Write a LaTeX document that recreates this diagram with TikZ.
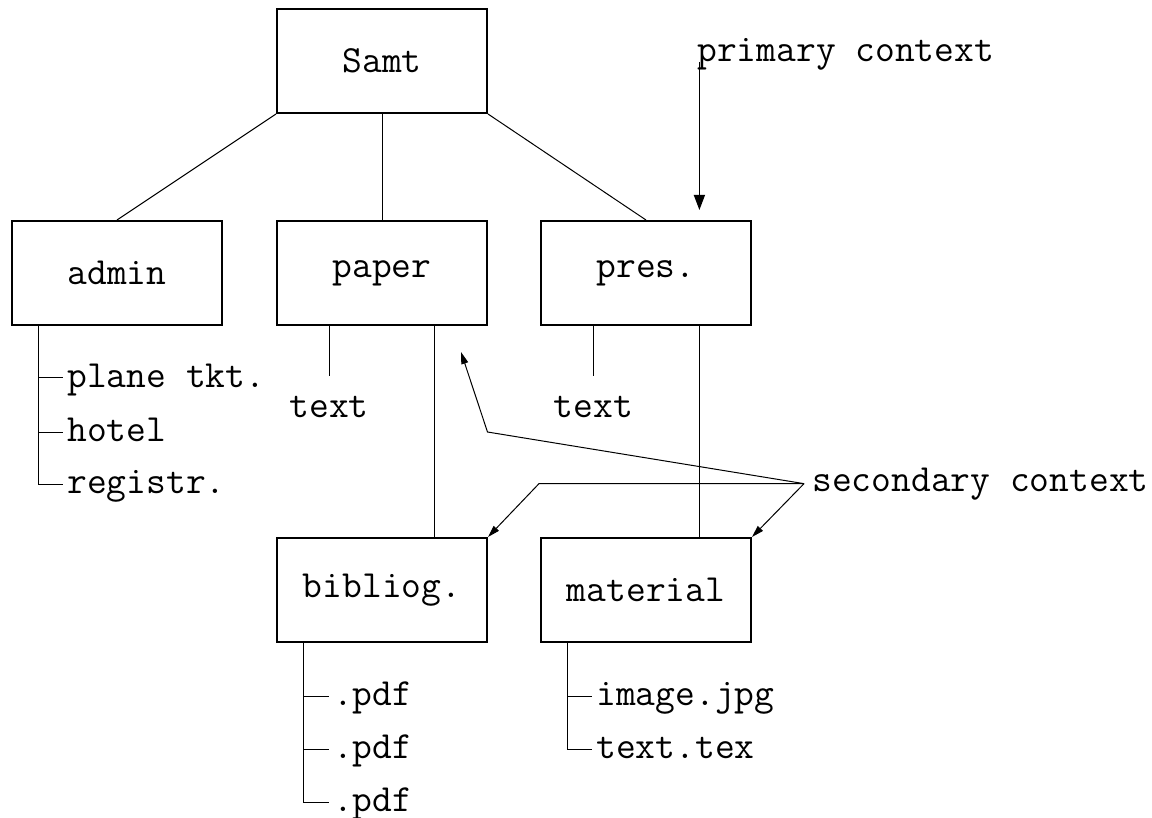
\documentclass[tikz,border=0pt]{standalone}
\usetikzlibrary{arrows.meta}
\tikzset{
  box/.style={draw, line width=1pt, minimum width=105pt, minimum height=52pt, inner sep=0pt},
  conn/.style={line width=0.5pt},
  leaf/.style={anchor=west, inner xsep=2pt, inner ysep=0pt, text height=13.5pt, text depth=3.85pt},
  note/.style={anchor=base west, inner sep=0pt},
  textnote/.style={anchor=base, inner xsep=0pt, inner ysep=9.5pt},
  parrow/.style={line width=0.7pt, -{Triangle[length=7.5pt,width=5.5pt]}},
  sarrow/.style={line width=0.5pt, -{Triangle[length=6pt,width=3.5pt]}},
}
\begin{document}
\begin{tikzpicture}[x=0.5pt, y=-0.5pt, font=\fontsize{19.2}{23}\selectfont\ttfamily]
\useasboundingbox (0,0) rectangle (1152,818);
% boxes
\node[box] (samt) at (382,61) {Samt};
\node[box] (admin) at (117,273) {admin};
\node[box] (paper) at (382,273) {paper};
\node[box] (pres) at (646,273) {pres.};
\node[box] (bibliog) at (382,590) {bibliog.};
\node[box] (material) at (646,590) {material};
% tree from Samt
\draw[conn] (samt.south west) -- (admin.north);
\draw[conn] (samt.south) -- (paper.north);
\draw[conn] (samt.south east) -- (pres.north);
% admin leaves
\coordinate (av) at (38,0);
\node[leaf] (l1) at (63,378) {plane tkt.};
\node[leaf] (l2) at (63,432) {hotel};
\node[leaf] (l3) at (63,484) {registr.};
\draw[conn] (admin.south -| av) |- (l3.west);
\draw[conn] (l1.west -| av) -- (l1.west);
\draw[conn] (l2.west -| av) -- (l2.west);
% paper
\node[textnote] (ptext) at (329,417) {text};
\draw[conn] (paper.south -| ptext.north) -- (ptext.north);
\coordinate (pb) at (434.5,0);
\draw[conn] (paper.south -| pb) -- (bibliog.north -| pb);
% pres
\node[textnote] (rtext) at (593.5,417) {text};
\draw[conn] (pres.south -| rtext.north) -- (rtext.north);
\coordinate (pm) at (699,0);
\draw[conn] (pres.south -| pm) -- (material.north -| pm);
% bibliog leaves
\coordinate (bv) at (303,0);
\node[leaf] (b1) at (328.6,696) {.pdf};
\node[leaf] (b2) at (328.6,749) {.pdf};
\node[leaf] (b3) at (328.6,802) {.pdf};
\draw[conn] (bibliog.south -| bv) |- (b3.west);
\draw[conn] (b1.west -| bv) -- (b1.west);
\draw[conn] (b2.west -| bv) -- (b2.west);
% material leaves
\coordinate (mv) at (567,0);
\node[leaf] (m1) at (592,696) {image.jpg};
\node[leaf] (m2) at (592,749) {text.tex};
\draw[conn] (material.south -| mv) |- (m2.west);
\draw[conn] (m1.west -| mv) -- (m1.west);
% primary context
\node[note] (prim) at (697,62) {primary context};
\coordinate (pv) at (699.4,0);
\draw[parrow, shorten >=5pt] (prim.base west -| pv) -- (pres.north -| pv);
% secondary context
\node[anchor=base west, inner xsep=4pt, inner ysep=0pt] (sec) at (804,491) {secondary context};
\coordinate (s1bend) at (487.5,432);
\coordinate (s1tip) at (461,352);
\coordinate (s2bend) at (539,0);
\draw[sarrow] (sec.west) -- (s1bend) -- (s1tip);
\draw[sarrow] (sec.west) -- (sec.west -| s2bend) -- (bibliog.north east);
\draw[sarrow] (sec.west) -- (material.north east);
\end{tikzpicture}
\end{document}
